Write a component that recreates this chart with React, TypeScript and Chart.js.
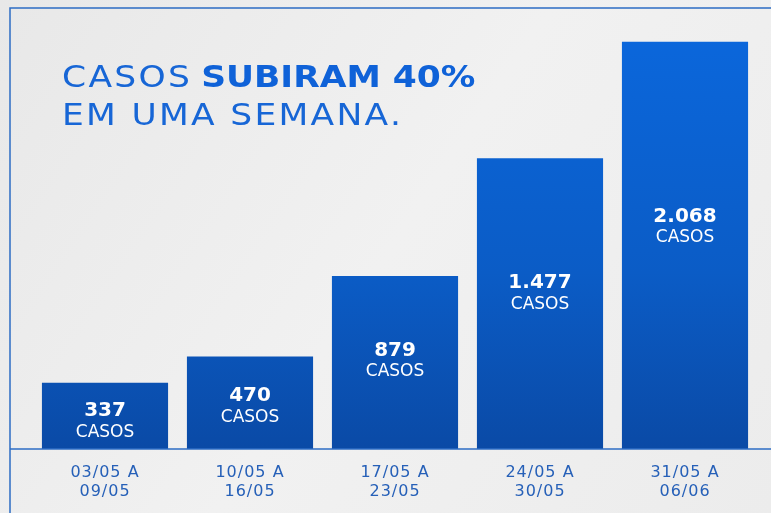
import React, { useEffect, useRef } from "react";
import { Chart, registerables } from "chart.js";

Chart.register(...registerables);

const weeks: string[][] = [
  ["03/05 A", "09/05"],
  ["10/05 A", "16/05"],
  ["17/05 A", "23/05"],
  ["24/05 A", "30/05"],
  ["31/05 A", "06/06"],
];
const cases: number[] = [337, 470, 879, 1477, 2068];
const caseLabels: string[] = ["337", "470", "879", "1.477", "2.068"];
const unitLabel = "CASOS";
const titleLine1Regular = "CASOS";
const titleLine1Bold = "SUBIRAM 40%";
const titleLine2 = "EM UMA SEMANA.";

const FONT = "'DejaVu Sans', sans-serif";
const FRAME = "#2c6cc4";

const decor = {
  id: "decor",
  beforeDraw(chart: any) {
    const { ctx, width, height } = chart;
    ctx.save();
    const g = ctx.createLinearGradient(0, 0, width, height);
    g.addColorStop(0, "#e8e8e8");
    g.addColorStop(0.5, "#f1f1f1");
    g.addColorStop(1, "#ececec");
    ctx.fillStyle = g;
    ctx.fillRect(0, 0, width, height);
    // title
    ctx.save();
    ctx.translate(62, 0);
    ctx.scale(1.15, 1);
    ctx.fillStyle = "#1766d6";
    ctx.textBaseline = "alphabetic";
    ctx.textAlign = "left";
    (ctx as any).letterSpacing = "2px";
    ctx.font = `400 30px ${FONT}`;
    ctx.fillText(titleLine1Regular, 0, 87);
    ctx.fillText(titleLine2, 0, 125);
    (ctx as any).letterSpacing = "0px";
    ctx.fillStyle = "#0f62d8";
    ctx.font = `700 30px ${FONT}`;
    ctx.fillText(titleLine1Bold, 121, 87);
    ctx.restore();
    ctx.restore();
  },
  afterDatasetsDraw(chart: any) {
    const { ctx, width, height, chartArea } = chart;
    const xs = chart.scales.x;
    const meta = chart.getDatasetMeta(0);
    ctx.save();
    // frame
    ctx.strokeStyle = FRAME;
    ctx.lineWidth = 1.5;
    ctx.beginPath();
    ctx.moveTo(10, height);
    ctx.lineTo(10, 8);
    ctx.lineTo(width, 8);
    ctx.stroke();
    // baseline
    ctx.beginPath();
    ctx.moveTo(10, chartArea.bottom);
    ctx.lineTo(width, chartArea.bottom);
    ctx.stroke();
    // value labels
    ctx.textAlign = "center";
    ctx.textBaseline = "middle";
    meta.data.forEach((bar: any, i: number) => {
      const h = bar.base - bar.y;
      const y = bar.base - 0.57 * h;
      ctx.fillStyle = "#ffffff";
      ctx.font = `700 20px ${FONT}`;
      ctx.fillText(caseLabels[i], bar.x, y);
      ctx.font = `400 17px ${FONT}`;
      ctx.fillText(unitLabel, bar.x, y + 21);
    });
    // category labels
    ctx.fillStyle = "#2660b8";
    ctx.font = `400 16px ${FONT}`;
    (ctx as any).letterSpacing = "1px";
    weeks.forEach((lines, i) => {
      const x = xs.getPixelForValue(i);
      ctx.fillText(lines[0], x, 473);
      ctx.fillText(lines[1], x, 492);
    });
    (ctx as any).letterSpacing = "0px";
    ctx.restore();
  },
};

export default function App() {
  const ref = useRef<HTMLCanvasElement | null>(null);
  useEffect(() => {
    document.body.style.margin = "0";
    const canvas = ref.current!;
    const chart = new Chart(canvas, {
      type: "bar",
      data: {
        labels: weeks.map((w) => w.join(" ")),
        datasets: [
          {
            data: cases,
            backgroundColor: (c: any) => {
              const area = c.chart.chartArea;
              if (!area) return "#0b5cc8";
              const g = c.chart.ctx.createLinearGradient(0, area.top, 0, area.bottom);
              g.addColorStop(0, "#0b68de");
              g.addColorStop(0.6, "#0b5cc6");
              g.addColorStop(1, "#0a4aa6");
              return g;
            },
            borderWidth: 0,
            barPercentage: 0.87,
            categoryPercentage: 1,
          },
        ],
      },
      options: {
        responsive: false,
        animation: false,
        layout: { padding: { left: 32.5, right: 13.5, top: 8, bottom: 64 } },
        plugins: { legend: { display: false }, tooltip: { enabled: false } },
        scales: {
          x: { display: false },
          y: { display: false, min: 0, max: 2240 },
        },
      },
      plugins: [decor],
    });
    return () => chart.destroy();
  }, []);
  return <canvas ref={ref} width={771} height={513} style={{ display: "block" }} />;
}
